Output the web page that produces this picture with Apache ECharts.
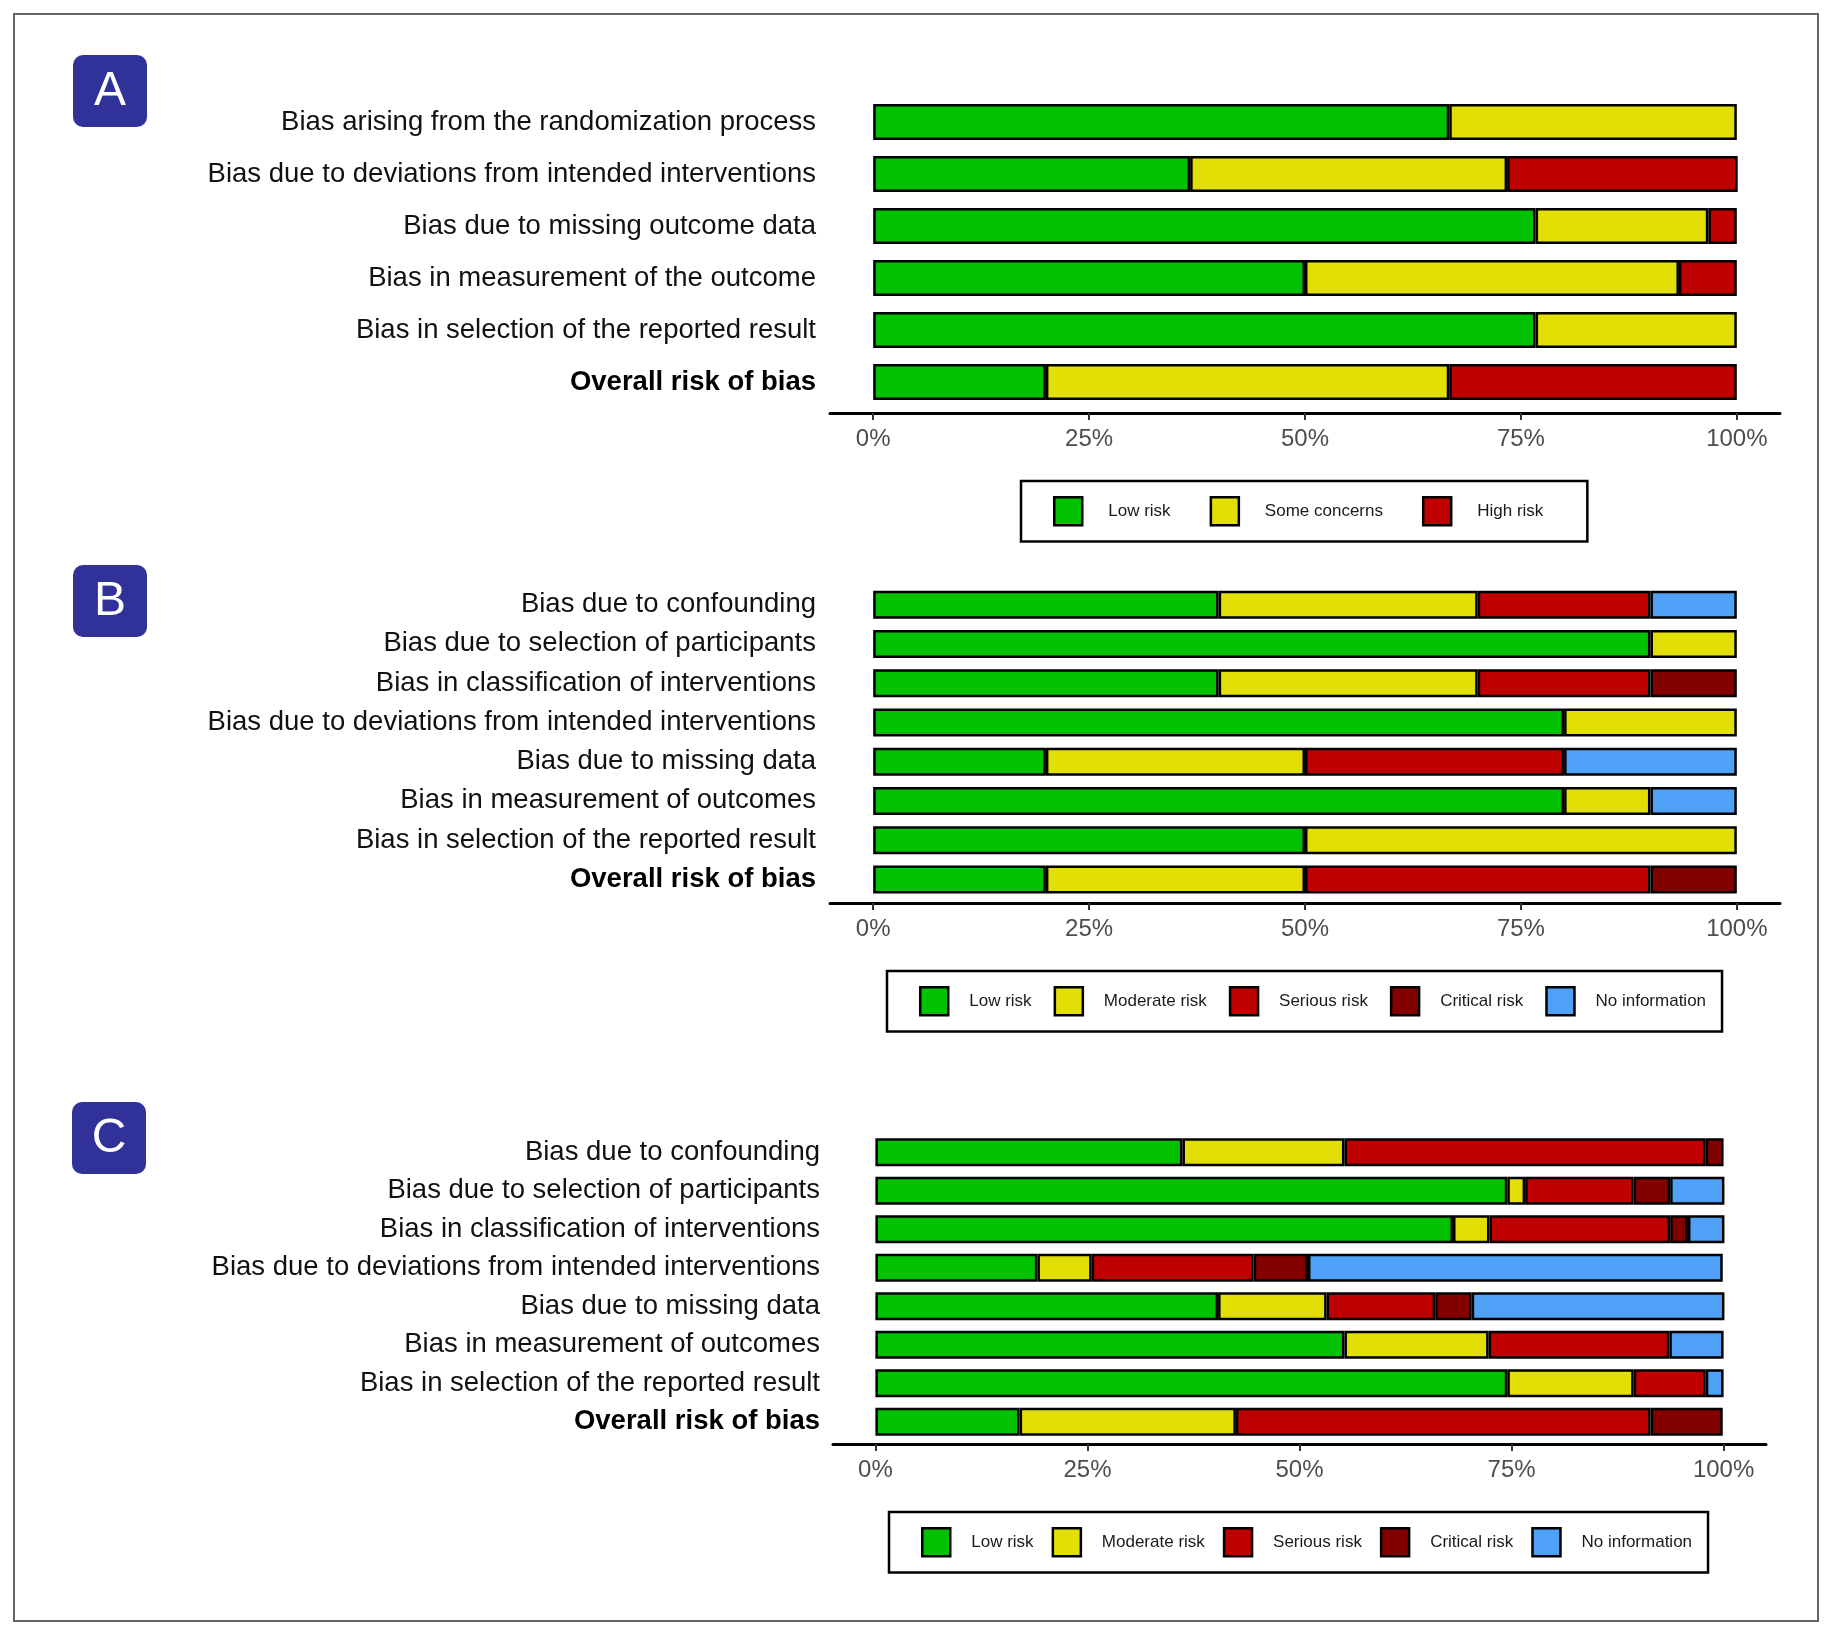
<!DOCTYPE html>
<html>
<head>
<meta charset="utf-8">
<title>Risk of bias</title>
<script src="https://cdn.jsdelivr.net/npm/echarts@6/dist/echarts.min.js"></script>
<style>
  html, body { margin: 0; padding: 0; background: #fff; }
  #box { width: 1833px; height: 1635px; }
</style>
</head>
<body>
<div id="box"></div>
<script>
// A - RoB 2 (percent of studies)
var domainsA = ['Bias arising from the randomization process', 'Bias due to deviations from intended interventions',
    'Bias due to missing outcome data', 'Bias in measurement of the outcome', 'Bias in selection of the reported result',
    'Overall risk of bias'];
var lowA = [66.7, 36.7, 76.7, 50.0, 76.7, 20.0];
var someA = [33.3, 36.7, 20.0, 43.3, 23.3, 46.7];
var highA = [0, 26.7, 3.3, 6.7, 0, 33.3];

// B - ROBINS-I
var domainsB = ['Bias due to confounding', 'Bias due to selection of participants', 'Bias in classification of interventions',
    'Bias due to deviations from intended interventions', 'Bias due to missing data', 'Bias in measurement of outcomes',
    'Bias in selection of the reported result', 'Overall risk of bias'];
var lowB = [40, 90, 40, 80, 20, 80, 50, 20];
var modB = [30, 10, 30, 20, 30, 10, 50, 30];
var serB = [20, 0, 20, 0, 30, 0, 0, 40];
var critB = [0, 0, 10, 0, 0, 0, 0, 10];
var niB = [10, 0, 0, 0, 20, 10, 0, 0];

// C - ROBINS-I
var domainsC = domainsB.slice();
var lowC = [36.2, 74.5, 68.1, 19.1, 40.4, 55.3, 74.5, 17.0];
var modC = [19.1, 2.1, 4.3, 6.4, 12.8, 17.0, 14.9, 25.5];
var serC = [42.6, 12.8, 21.3, 19.1, 12.8, 21.3, 8.5, 48.9];
var critC = [2.1, 4.3, 2.1, 6.4, 4.3, 0, 0, 8.5];
var niC = [0, 6.4, 4.3, 48.9, 29.8, 6.4, 2.1, 0];

var tickVals = [0, 25, 50, 75, 100];

var col = {
    'Low risk': '#02C100',
    'Some concerns': '#E2DF07',
    'High risk': '#BF0000',
    'Moderate risk': '#E2DF07',
    'Serious risk': '#BF0000',
    'Critical risk': '#820000',
    'No information': '#4EA1F7'
};
var FONT = '"Liberation Sans", Arial, Helvetica, sans-serif';

function mkSeries(idx, names, arrs, bw) {
    return names.map(function (n, i) {
        return {
            name: n,
            type: 'bar',
            stack: 'p' + idx,
            xAxisIndex: idx,
            yAxisIndex: idx,
            barWidth: bw,
            itemStyle: {color: col[n], borderColor: '#000', borderWidth: 2.5},
            emphasis: {disabled: true},
            data: arrs[i].map(function (v) { return v === 0 ? null : v; })
        };
    });
}

function mkX(idx, off) {
    return {
        type: 'value', gridIndex: idx, min: -5, max: 105, offset: off,
        splitLine: {show: false},
        axisLine: {show: true, lineStyle: {color: '#000', width: 3}},
        axisTick: {show: true, customValues: tickVals, length: 7, lineStyle: {color: '#333', width: 2}},
        axisLabel: {customValues: tickVals, formatter: '{value}%', fontSize: 24, color: '#4d4d4d', margin: 14, fontFamily: FONT}
    };
}

function mkY(idx, cats, margin) {
    return {
        type: 'category', gridIndex: idx, data: cats, inverse: true,
        axisLine: {show: false}, axisTick: {show: false},
        axisLabel: {
            fontSize: 27.5, color: '#111', margin: margin, fontFamily: FONT,
            formatter: function (v) { return v === 'Overall risk of bias' ? '{b|' + v + '}' : v; },
            rich: {b: {fontSize: 27.5, fontWeight: 'bold', color: '#000', fontFamily: FONT}}
        }
    };
}

function mkLegend(items, left, top, gap, pad, txtPad) {
    return {
        data: items, left: left, top: top, orient: 'horizontal',
        icon: 'rect', itemWidth: 28, itemHeight: 28, itemGap: gap,
        padding: pad, borderColor: '#000', borderWidth: 2.5,
        itemStyle: {borderColor: '#000', borderWidth: 2.5},
        textStyle: {fontSize: 17, color: '#1a1a1a', fontFamily: FONT, padding: [0, 0, 0, txtPad]},
        selectedMode: false
    };
}

function badge(x, y, letter) {
    return {
        type: 'group', x: x, y: y,
        children: [
            {type: 'rect', shape: {x: 0, y: 0, width: 74, height: 72, r: 10}, style: {fill: '#31319a'}},
            {type: 'text', x: 37, y: 37, style: {text: letter, fill: '#fff', fontSize: 48, fontFamily: FONT, align: 'center', verticalAlign: 'middle'}}
        ]
    };
}

var namesA = ['Low risk', 'Some concerns', 'High risk'];
var namesBC = ['Low risk', 'Moderate risk', 'Serious risk', 'Critical risk', 'No information'];

var myChart = echarts.init(document.getElementById('box'));
var option = {
    backgroundColor: '#fff',
    animation: false,
    grid: [
        {left: 830, width: 950, top: 96, height: 312},
        {left: 830, width: 950, top: 585, height: 314},
        {left: 833, width: 933, top: 1133, height: 308}
    ],
    xAxis: [mkX(0, 5), mkX(1, 4), mkX(2, 3)],
    yAxis: [mkY(0, domainsA, 14), mkY(1, domainsB, 14), mkY(2, domainsC, 13)],
    legend: [
        mkLegend(namesA, 1021, 481, 39, [15, 44, 15, 32], 21),
        mkLegend(namesBC, 887, 971, 22, [15, 16, 15, 32], 16),
        mkLegend(namesBC, 889, 1512, 18, [15, 16, 15, 32], 16)
    ],
    graphic: [
        {type: 'rect', shape: {x: 14, y: 14, width: 1804, height: 1607}, style: {fill: 'none', stroke: '#666', lineWidth: 2}},
        badge(73, 55, 'A'),
        badge(73, 565, 'B'),
        badge(72, 1102, 'C')
    ],
    series: []
        .concat(mkSeries(0, namesA, [lowA, someA, highA], 36))
        .concat(mkSeries(1, namesBC, [lowB, modB, serB, critB, niB], 28))
        .concat(mkSeries(2, namesBC, [lowC, modC, serC, critC, niC], 28))
};
myChart.setOption(option);

window.addEventListener('resize', function () {
    myChart.resize();
});
</script>
</body>
</html>
